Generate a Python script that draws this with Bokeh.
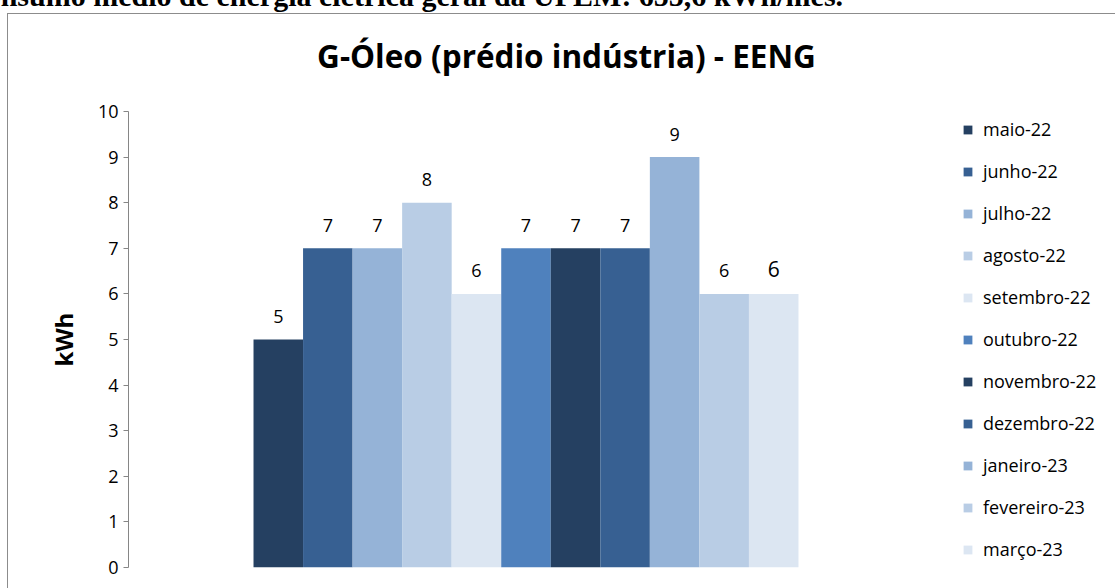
from bokeh.plotting import figure
from bokeh.layouts import column
from bokeh.models import (Range1d, Label, Legend, LegendItem, Div, Title,
                          ColumnDataSource, FixedTicker)
from bokeh.core.properties import value
from bokeh.embed import file_html
from bokeh.resources import INLINE

# ---------------- data ----------------
months = ["maio-22", "junho-22", "julho-22", "agosto-22", "setembro-22",
          "outubro-22", "novembro-22", "dezembro-22", "janeiro-23",
          "fevereiro-23", "março-23"]
kwh = [5, 7, 7, 8, 6, 7, 7, 7, 9, 6, 6]
colors = ["#254061", "#376092", "#95B3D7", "#B9CDE5", "#DCE6F2",
          "#4F81BD", "#254061", "#376092", "#95B3D7", "#B9CDE5", "#DCE6F2"]
y_ticks = list(range(0, 11))
title_text = "G-Óleo (prédio indústria) - EENG"
y_label = "kWh"
header_text = "Consumo médio de energia elétrica geral da UFEM: 655,6 kWh/mês."

# ---------------- layout (page px) ----------------
PAGE_W, PAGE_H = 1115, 588
TOP = 13                       # chart box top edge (figure starts here)
PL, PR, PT, PB = 128, 923, 111, 567   # plot-area edges
W, H = PAGE_W, PAGE_H - TOP
FB = PB - TOP                  # frame bottom inside figure
ppu = (PB - PT) / 10.0         # pixels per kWh
y_end = FB / ppu               # frame reaches the figure top
x_end = (W - PL) / (PR - PL)   # frame reaches the figure right edge

p = figure(width=W, height=H, output_backend="svg", toolbar_location=None,
           title=None, x_range=Range1d(0, x_end), y_range=Range1d(0, y_end),
           min_border_left=PL, min_border_right=0, min_border_top=0,
           min_border_bottom=H - FB, x_axis_type=None)
p.margin = 0
p.grid.visible = False
p.outline_line_color = None
p.background_fill_alpha = 0
p.border_fill_alpha = 0
# chart box (left and top borders) drawn behind the transparent canvas
p.styles = {"background": "linear-gradient(#8c8c8c,#8c8c8c) 7px 0px / 1px 100% no-repeat, "
                          "linear-gradient(#8c8c8c,#8c8c8c) 7px 0px / 100% 1px no-repeat, white"}

# y axis
ax = p.yaxis[0]
ax.ticker = FixedTicker(ticks=y_ticks)
ax.bounds = (0, 10)
ax.axis_line_color = "#868686"
ax.major_tick_line_color = "#868686"
ax.major_tick_in = 0
ax.major_tick_out = 5
ax.minor_tick_line_color = None
ax.major_label_standoff = 5
ax.major_label_text_font = "Open Sans"
ax.major_label_text_font_size = "18px"
ax.major_label_text_color = "#000000"

# y-axis title, placed beside the 0-10 span (reads bottom to top)
p.add_layout(Title(text=y_label, align="left", offset=PB - 366,
                   vertical_align="bottom", standoff=30,
                   text_font="Open Sans", text_font_style="bold",
                   text_font_size="24px", text_color="#000000"), "left")

# bars
n = len(months)
group = 0.6855
bw = group / n
xs = [0.5 + (i - (n - 1) / 2) * bw for i in range(n)]

renderers = []
for i in range(n):
    r = p.vbar(x=[xs[i]], top=[kwh[i]], bottom=0, width=bw,
               fill_color=colors[i], line_color=None)
    renderers.append(r)

# data labels
sizes = ["18px"] * (n - 1) + ["21px"]
offs = [-23] * (n - 1) + [-25]
src = ColumnDataSource(dict(x=xs, y=kwh, t=[str(v) for v in kwh], fs=sizes, off=offs))
p.text(x="x", y="y", text="t", source=src, y_offset="off",
       text_align="center", text_baseline="middle",
       text_font=value("Open Sans"), text_font_size="fs", text_color="#000000")

# legend
legend = Legend(items=[LegendItem(label=months[i], renderers=[renderers[i]]) for i in range(n)],
                location=(962 - PL, PB - 561), orientation="vertical",
                glyph_width=11, glyph_height=11, label_standoff=10,
                label_height=20, spacing=18, padding=0, margin=0,
                border_line_alpha=0, background_fill_alpha=0,
                label_text_font="Open Sans", label_text_font_size="18px",
                label_text_color="#000000")
p.add_layout(legend)

# chart title
p.add_layout(Label(x=566 - PL, y=PB - 55, x_units="screen", y_units="screen",
                   text=title_text, text_align="center", text_baseline="alphabetic",
                   text_font="Open Sans", text_font_style="bold",
                   text_font_size="31.5px", text_color="#000000"))

# header line above the chart (cut off by the page top, as in the source)
header = Div(text=('<div style="position:relative;left:-36px;top:-19px;white-space:nowrap;'
                   'font-family:\'Liberation Serif\';font-weight:bold;font-size:30px;'
                   'line-height:30px;color:#000">' + header_text + '</div>'),
             width=W, height=TOP, margin=0, styles={"overflow": "visible"})

layout = column(header, p, spacing=0, margin=0)
open("out.html", "w").write(file_html(layout, INLINE))
